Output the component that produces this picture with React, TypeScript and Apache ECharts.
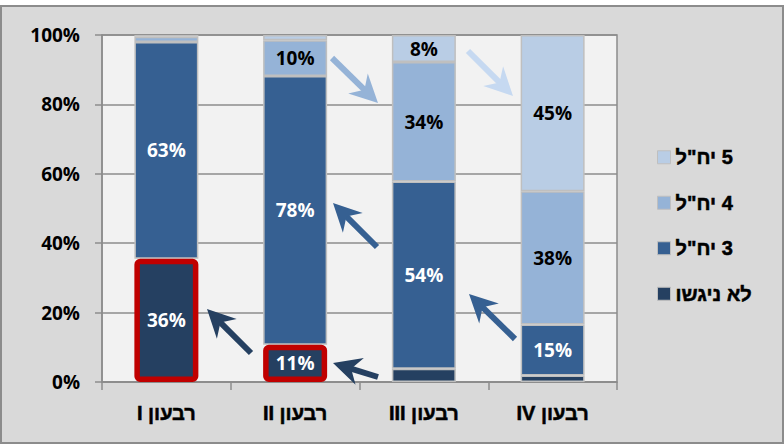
import React, { useEffect, useRef } from 'react';
import * as echarts from 'echarts';

const categories = ['רבעון I', 'רבעון II', 'רבעון III', 'רבעון IV'];
const seriesNames = ['לא ניגשו', '3 יח"ל', '4 יח"ל', '5 יח"ל'];
const notTaken = [35.5, 10.7, 3.8, 1.9];
const units3 = [62.5, 77.5, 54, 14.7];
const units4 = [1.5, 10.3, 34.4, 38.4];
const units5 = [0.5, 1.5, 7.8, 45];
const highlightedNotTaken = [0, 1];
const yTickLabels = ['0%', '20%', '40%', '60%', '80%', '100%'];

const COLORS = ['#254061', '#366092', '#95b3d7', '#b9cde5'];
const LABEL_COLORS = ['#ffffff', '#ffffff', '#000000', '#000000'];
const FONT = '"Open Sans", "Liberation Sans", "DejaVu Sans", sans-serif';
const HEB_FONT = '"Liberation Sans", "DejaVu Sans", sans-serif';

// Annotation arrows (pixel coordinates: tail -> tip)
const ARROWS = [
  { tail: [332, 58], tip: [378, 103], color: '#95b3d7' },
  { tail: [468, 51], tip: [513, 96], color: '#c6d9f1' },
  { tail: [377, 247], tip: [333, 203], color: '#366092' },
  { tail: [515, 339], tip: [469, 294], color: '#366092' },
  { tail: [251, 353], tip: [207, 309], color: '#254061' },
  { tail: [378, 377], tip: [333, 363], color: '#254061' },
];

const rtl = (s: string) => '\u202B' + s + '\u202C';

function arrowGraphics() {
  const out: any[] = [];
  const headLen = 28;
  const hw = 14;
  const notch = 9;
  ARROWS.forEach((a) => {
    const [tx, ty] = a.tail;
    const [px, py] = a.tip;
    const dx = px - tx;
    const dy = py - ty;
    const len = Math.sqrt(dx * dx + dy * dy);
    const ux = dx / len;
    const uy = dy / len;
    const nx = -uy;
    const ny = ux;
    const bx = px - ux * headLen;
    const by = py - uy * headLen;
    const nX = px - ux * (headLen - notch);
    const nY = py - uy * (headLen - notch);
    out.push({
      type: 'line',
      shape: { x1: tx, y1: ty, x2: nX + ux * 2, y2: nY + uy * 2 },
      style: { stroke: a.color, lineWidth: 6 },
      z: 10,
    });
    out.push({
      type: 'polygon',
      shape: {
        points: [
          [px, py],
          [bx + nx * hw, by + ny * hw],
          [nX, nY],
          [bx - nx * hw, by - ny * hw],
        ],
      },
      style: { fill: a.color },
      z: 10,
    });
  });
  return out;
}

export default function App() {
  const ref = useRef<HTMLDivElement>(null);
  useEffect(() => {
    if (!ref.current) return;
    const chart = echarts.init(ref.current, null, { renderer: 'svg' });
    const allData = [notTaken, units3, units4, units5];
    const series = allData.map((vals, si) => ({
      name: seriesNames[si],
      type: 'bar',
      stack: 'total',
      barWidth: 64,
      z: si === 0 ? 4 : 2,
      itemStyle: { color: COLORS[si], borderColor: '#bfbfbf', borderWidth: 1.5 },
      label: {
        show: true,
        position: 'inside',
        color: LABEL_COLORS[si],
        fontFamily: FONT,
        fontWeight: 'bold',
        fontSize: 19,
        formatter: (p: any) => (p.value >= 5 ? Math.round(p.value) + '%' : ''),
      },
      data: vals.map((v, i) =>
        si === 0 && highlightedNotTaken.includes(i)
          ? { value: v, itemStyle: { borderColor: '#c00000', borderWidth: 5.5, borderRadius: 3 } }
          : v
      ),
    }));
    chart.setOption({
      animation: false,
      grid: {
        left: 102,
        right: 167,
        top: 35,
        bottom: 62,
        show: true,
        backgroundColor: '#f2f2f2',
        borderColor: '#8c8c8c',
        borderWidth: 1.5,
      },
      legend: {
        orient: 'vertical',
        left: 657,
        top: 147,
        itemWidth: 13,
        itemHeight: 13,
        itemGap: 25,
        padding: 0,
        icon: 'rect',
        data: [...seriesNames].reverse(),
        formatter: (n: string) => rtl(n),
        textStyle: {
          fontFamily: HEB_FONT,
          fontWeight: 'bold',
          fontSize: 20,
          color: '#000',
          textBorderColor: '#000',
          textBorderWidth: 0.5,
        },
        itemStyle: { borderColor: '#bfbfbf', borderWidth: 1 },
      },
      xAxis: {
        type: 'category',
        data: categories,
        axisLine: { lineStyle: { color: '#8c8c8c', width: 1.5 } },
        axisTick: { show: true, length: 8, lineStyle: { color: '#8c8c8c', width: 1.5 } },
        axisLabel: {
          margin: 21,
          fontFamily: HEB_FONT,
          fontWeight: 'bold',
          fontSize: 20,
          color: '#000',
          textBorderColor: '#000',
          textBorderWidth: 0.5,
          formatter: (v: string) => rtl(v),
        },
      },
      yAxis: {
        type: 'value',
        min: 0,
        max: 100,
        interval: 20,
        axisLine: { show: true, lineStyle: { color: '#8c8c8c', width: 1.5 } },
        axisTick: { show: true, length: 7, lineStyle: { color: '#8c8c8c', width: 1.5 } },
        splitLine: { show: true, lineStyle: { color: '#8c8c8c', width: 1.5 } },
        axisLabel: {
          margin: 22,
          fontFamily: FONT,
          fontWeight: 'bold',
          fontSize: 19,
          color: '#000',
          formatter: (v: number) => yTickLabels[Math.round(v / 20)],
        },
      },
      graphic: arrowGraphics(),
      series,
    });
    return () => chart.dispose();
  }, []);
  return (
    <div style={{ position: 'fixed', left: 0, top: 0, width: 784, height: 444, background: '#ffffff' }}>
      <div
        style={{
          position: 'absolute',
          left: 0,
          top: 5,
          width: 784,
          height: 439,
          boxSizing: 'border-box',
          border: '2px solid #8c8c8c',
          background: '#d9d9d9',
        }}
      />
      <div ref={ref} style={{ position: 'absolute', left: 0, top: 0, width: 784, height: 444 }} />
    </div>
  );
}
